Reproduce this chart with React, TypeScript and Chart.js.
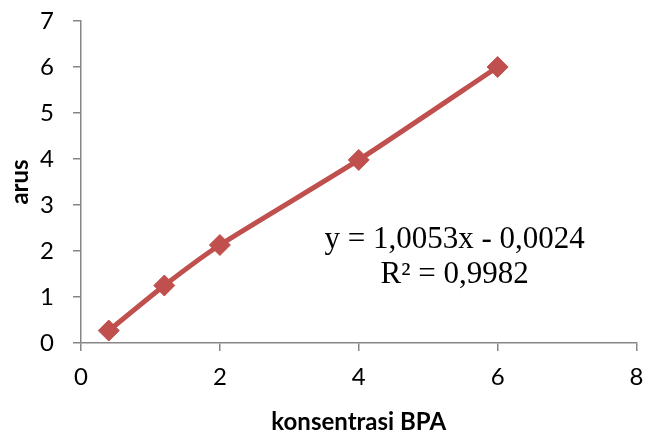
import { useEffect, useRef } from "react";
import { Chart, registerables } from "chart.js";

Chart.register(...registerables);

const concentrations = [0.4, 1.2, 2, 4, 6];
const currents = [0.27, 1.25, 2.13, 3.98, 6.0];
const equationLines = ["y = 1,0053x - 0,0024", "R² = 0,9982"];
const xAxisTitle = "konsentrasi BPA";
const yAxisTitle = "arus";

const LINE_COLOR = "#C0504D";
const AXIS_COLOR = "#868686";

const equationPlugin = {
  id: "equationLabel",
  afterDatasetsDraw(chart: any) {
    const { ctx, scales } = chart;
    const cx = scales.x.getPixelForValue(5.38);
    const cy = scales.y.getPixelForValue(2.24);
    ctx.save();
    ctx.font = '31px "Liberation Serif"';
    ctx.fillStyle = "#000";
    ctx.textAlign = "center";
    ctx.textBaseline = "middle";
    equationLines.forEach((line, i) => ctx.fillText(line, cx, cy + i * 35));
    ctx.restore();
  },
};

export default function App() {
  const ref = useRef<HTMLCanvasElement | null>(null);

  useEffect(() => {
    if (!ref.current) return;
    const chart = new Chart(ref.current, {
      type: "line",
      data: {
        datasets: [
          {
            data: concentrations.map((x, i) => ({ x, y: currents[i] })),
            borderColor: LINE_COLOR,
            backgroundColor: LINE_COLOR,
            borderWidth: 5,
            tension: 0.2,
            pointStyle: "rectRot",
            pointRadius: 10.5,
            pointBorderWidth: 1,
            pointBackgroundColor: LINE_COLOR,
            pointBorderColor: LINE_COLOR,
          },
        ],
      },
      options: {
        animation: false,
        responsive: false,
        maintainAspectRatio: false,
        layout: { padding: { top: 21, right: 10, left: 0, bottom: 0 } },
        plugins: { legend: { display: false }, tooltip: { enabled: false } },
        scales: {
          x: {
            type: "linear",
            min: 0,
            max: 8,
            ticks: {
              stepSize: 2,
              color: "#000",
              font: { family: "Lato", size: 24 },
              padding: 12,
            },
            grid: { drawOnChartArea: false, tickLength: 8, color: AXIS_COLOR, lineWidth: 1.5 },
            border: { color: AXIS_COLOR, width: 1.5 },
            title: {
              display: true,
              text: xAxisTitle,
              color: "#000",
              font: { family: "Lato", size: 24, weight: "bold", lineHeight: 0.85 },
              padding: { top: 0, bottom: 0 },
            },
            afterFit(scale: any) {
              scale.height = 89;
              scale.paddingLeft = 0;
              scale.paddingRight = 0;
            },
          },
          y: {
            type: "linear",
            min: 0,
            max: 7,
            ticks: {
              stepSize: 1,
              color: "#000",
              font: { family: "Lato", size: 24 },
              padding: 19,
            },
            grid: { drawOnChartArea: false, tickLength: 8, color: AXIS_COLOR, lineWidth: 1.5 },
            border: { color: AXIS_COLOR, width: 1.5 },
            title: {
              display: true,
              text: yAxisTitle,
              color: "#000",
              font: { family: "Lato", size: 24, weight: "bold" },
              padding: { top: 6, bottom: 0 },
            },
            afterFit(scale: any) {
              scale.width = 81;
              scale.paddingTop = 0;
              scale.paddingBottom = 0;
            },
          },
        },
      },
      plugins: [equationPlugin],
    });
    return () => chart.destroy();
  }, []);

  return (
    <div style={{ position: "absolute", left: 0, top: 0, width: 648, height: 432, background: "#fff" }}>
      <canvas ref={ref} width={648} height={432} style={{ width: 648, height: 432 }} />
    </div>
  );
}
